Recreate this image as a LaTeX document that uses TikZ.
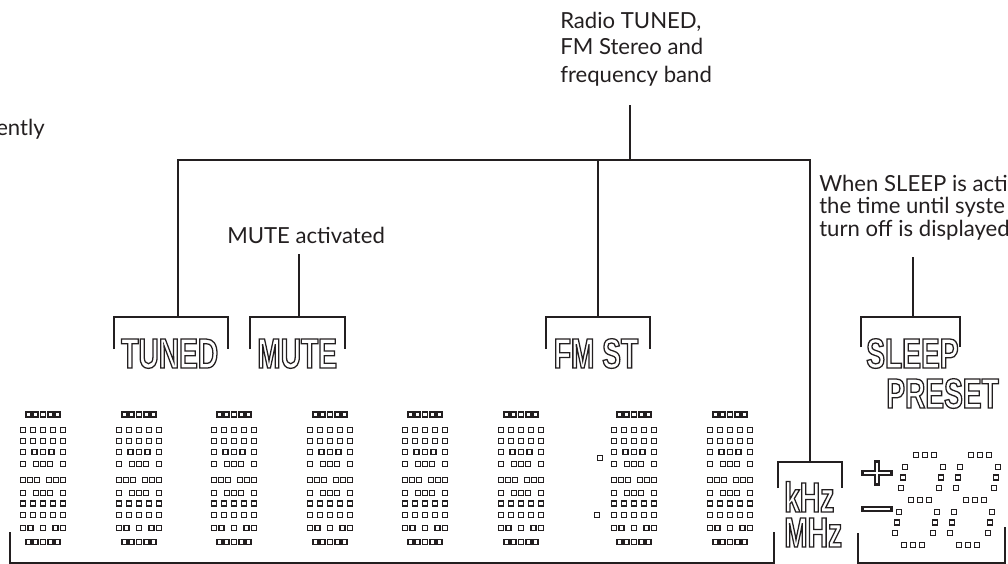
\documentclass[tikz,border=0pt]{standalone}
\usepackage{fontspec}
\setmainfont{Lato}
\newfontfamily\lcdfont{Liberation Sans Bold}[FakeStretch=0.67]
\definecolor{ink}{HTML}{231F20}
\newcommand\lcd[1]{\special{pdf:literal direct 1 Tr 0.95 w}#1\special{pdf:literal direct 0 Tr}}
\newcommand\sqr[2]{\draw[sq] ({#1-2.5},{#2-2.5}) rectangle ({#1+2.5},{#2+2.5});}
\newcommand\sqrow[3]{\foreach \u in {#3}{\sqr{#1+\u}{#2}}}
\newcommand\bigdigit[2]{%
 \sqrow{#1}{#2}{5.5,12.75,20,27.25,34.5}
 \sqrow{#1}{#2+15.5}{0,10,20,30,40}
 \sqrow{#1}{#2+26.5}{0,10,20,30,40}
 \sqrow{#1}{#2+37.5}{0,11.5,20,28.5,40}
 \sqrow{#1}{#2+49.5}{0,13,20,27,40}
 \sqrow{#1}{#2+65.5}{0,7,14,26,33,40}
 \sqrow{#1}{#2+78.5}{0,13,20,27,40}
 \sqrow{#1}{#2+89}{0,10,20,30,40}
 \sqrow{#1}{#2+100.5}{0,10,20,30,40}
 \sqrow{#1}{#2+113.5}{0,7.5,20,32.5,40}
 \sqrow{#1}{#2+127.5}{5.5,12.75,20,27.25,34.5}}
\newcommand\smalldigit[1]{%
 \sqrow{#1}{455}{916,925,934}
 \sqrow{#1}{467}{905,943}
 \sqrow{#1}{477.5}{903,941}
 \sqrow{#1}{488}{901,939}
 \sqrow{#1}{500}{911,920,929}
 \sqrow{#1}{512}{899,937}
 \sqrow{#1}{522.5}{897,935}
 \sqrow{#1}{533}{895,933}
 \sqrow{#1}{545}{904,913,922}}
\tikzset{
 ln/.style={draw=ink, line width=1.5pt},
 sq/.style={draw=ink, line width=1.3pt, fill=white},
 lbl/.style={inner sep=0pt, text=ink, font=\fontsize{16.6}{20.25}\selectfont},
 lblb/.style={inner sep=0pt, text=ink, font=\fontsize{16.6}{16.9}\selectfont},
 lcdtxt/.style={inner sep=0pt, text=ink, font=\lcdfont\fontsize{31.5}{26.25}\selectfont},
 dark/.style={draw=ink, line width=4.8, line cap=rect},
 light/.style={draw=white, line width=2},
}
\begin{document}
\begin{tikzpicture}[x=0.75pt,y=-0.75pt]
\useasboundingbox (0,0) rectangle (1008,564);
% labels
\node[lbl, anchor=base east] (ently) at (45,135) {ently};
\node[lbl, anchor=base west] (radio) at (560,28) {\vtop{\hbox{Radio TUNED,}\hbox{FM Stereo and}\hbox{frequency band}}};
\node[lbl, anchor=base west] (mutelbl) at (227,243) {MUTE activated};
\node[lblb, anchor=base west] (sleeplbl) at (819,191) {\vtop{\hbox{When SLEEP is acti}\hbox{the time until syste}\hbox{turn off is displayed}}};
% connector points
\coordinate (radioTip) at (630,105);
\coordinate (barJ) at (630,160);
\coordinate (barL) at (178,160);
\coordinate (barF) at (598,160);
\coordinate (barR) at (810,160);
\coordinate (tunedTop) at (178,317);
\coordinate (fmTop) at (598,317);
\coordinate (khzTop) at (810,462);
\coordinate (muteTip) at (299,254);
\coordinate (muteTop) at (299,317);
\coordinate (sleepTip) at (913,257);
\coordinate (sleepTop) at (913,317);
\draw[ln] (radioTip) -- (barJ);
\draw[ln] (tunedTop) -- (barL) -- (barR) -- (khzTop);
\draw[ln] (barF) -- (fmTop);
\draw[ln] (muteTip) -- (muteTop);
\draw[ln] (sleepTip) -- (sleepTop);
% brackets
\draw[ln] (114,349) -- (114,317) -- (228,317) -- (228,349);
\draw[ln] (250,349) -- (250,317) -- (345,317) -- (345,349);
\draw[ln] (546,349) -- (546,317) -- (650,317) -- (650,349);
\draw[ln] (861,347) -- (861,317) -- (960,317) -- (960,347);
\draw[ln] (778,488) -- (778,462) -- (842,462) -- (842,488);
\draw[ln] (10,532) -- (10,563) -- (774,563) -- (774,532);
\draw[ln] (858,533) -- (858,563) -- (1005,563) -- (1005,527);
% LCD words
\node[lcdtxt, anchor=base west] (tuned) at (121,368) {\lcd{TUNED}};
\node[lcdtxt, anchor=base west] (mute) at (257,368) {\lcd{MUTE}};
\node[lcdtxt, anchor=base] (fmst) at (596,368) {\lcd{FM ST}};
\node[lcdtxt, anchor=base west] (sleep) at (866,368) {\lcd{SLEEP}};
\node[lcdtxt, anchor=base west] (preset) at (886,408) {\lcd{PRESET}};
\node[lcdtxt, anchor=base west] (khz) at (784,512) {\vtop{\hbox{\lcd{kHz}}\hbox{\lcd{MHz}}}};
% plus / minus
\draw[dark] (864,473) -- (890,473) (877,463) -- (877,483);
\draw[dark] (864,509) -- (890,509);
\draw[light] (864,473) -- (890,473) (877,463) -- (877,483);
\draw[light] (864,509) -- (890,509);
% dot-matrix digits
\foreach \d in {23,119,214,310,405,501,614,710} {\bigdigit{\d}{414.5}}
\sqr{600}{458}
\sqr{597}{515}
\smalldigit{0}
\smalldigit{55}
\end{tikzpicture}
\end{document}
